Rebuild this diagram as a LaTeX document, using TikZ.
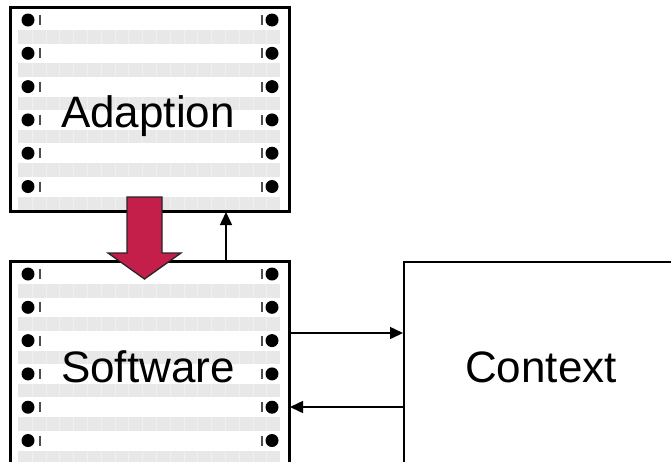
\documentclass[tikz,border=0pt]{standalone}
\usepackage{fontspec}
\setmainfont{Liberation Sans}
\usetikzlibrary{arrows.meta,calc}
\definecolor{crimson}{HTML}{C41E4A}
\definecolor{stripe}{HTML}{E8E8E8}
\definecolor{stripesep}{HTML}{F0F0F0}
\tikzset{
  box/.style={draw=black,line width=2pt,fill=white,inner sep=0pt},
  lbl/.style={font=\fontsize{44}{50}\selectfont,inner sep=0pt},
  conn/.style={line width=1.5pt,-{Triangle[length=13pt,width=12pt]}},
  dot/.style={fill=black},
  bar/.style={draw=black!70,line width=1.2pt},
  sep/.style={draw=stripesep,line width=0.6pt},
}
\newcommand{\striperows}[2]{% #1 first bullet y, #2 count
  \foreach \k in {0,...,5}{
    \pgfmathsetmacro{\yy}{#1+33.3*\k}
    \fill[stripe] (18,\yy+10) rectangle (280,\yy+23.5);
    \foreach \xx in {32,45.8,...,270}{\draw[sep] (\xx,\yy+10) -- (\xx,\yy+23.5);}
    \fill[dot] (28,\yy) circle (6.5);
    \draw[bar] (40,\yy-5) -- (40,\yy+5);
    \fill[dot] (272,\yy) circle (6.5);
    \draw[bar] (262,\yy-5) -- (262,\yy+5);
  }}
\begin{document}
\begin{tikzpicture}[x=1pt,y=-1pt]
\useasboundingbox (0,0) rectangle (671,461);
\clip (0,0) rectangle (671,461);
% Adaption
\node[box,minimum width=278pt,minimum height=203pt] (adapt) at (150,109.5) {};
\striperows{20}{6}
\node[lbl] (adaptlbl) at (148,116.5) {Adaption};
\draw[line width=2pt] (adapt.north west) rectangle (adapt.south east);
% Software
\node[box,minimum width=278pt,minimum height=220pt] (soft) at (150,372) {};
\striperows{274}{6}
\node[lbl] (softlbl) at (148,367) {Software};
\draw[line width=2pt] (soft.north west) rectangle (soft.south east);
% Context
\node[box,minimum width=290pt,minimum height=220pt] (ctx) at (549,372) {};
\node[lbl] (ctxlbl) at (541,367) {Context};
% up arrow
\coordinate (ux) at (226,0);
\draw[conn] (soft.north -| ux) -- (adapt.south -| ux);
% right arrows
\coordinate (ya) at (0,333);
\coordinate (yb) at (0,407);
\draw[conn] (soft.east |- ya) -- (ctx.west |- ya);
\draw[conn] (ctx.west |- yb) -- (soft.east |- yb);
% red arrow
\filldraw[fill=crimson,draw=black!85,line width=1.3pt]
  (127,197) -- (162,197) -- (162,253) -- (181,253) -- (144.5,279) -- (108,253) -- (127,253) -- cycle;
\end{tikzpicture}
\end{document}
